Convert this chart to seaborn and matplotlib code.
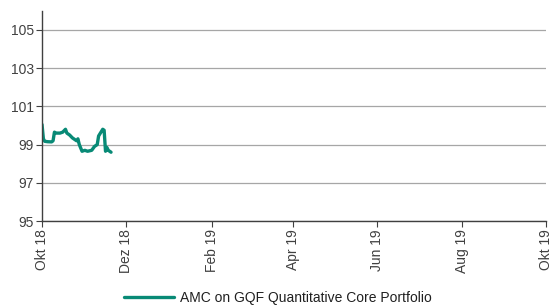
import matplotlib
matplotlib.use("Agg")
import matplotlib.pyplot as plt
import pandas as pd
import seaborn as sns
from matplotlib import font_manager

DATES = [
    "2018-10-01", "2018-10-02", "2018-10-03", "2018-10-05", "2018-10-08", "2018-10-09",
    "2018-10-10", "2018-10-11", "2018-10-14", "2018-10-16", "2018-10-18", "2018-10-19",
    "2018-10-21", "2018-10-23", "2018-10-26", "2018-10-27", "2018-10-28", "2018-10-30",
    "2018-11-01", "2018-11-03", "2018-11-06", "2018-11-08", "2018-11-10", "2018-11-11",
    "2018-11-14", "2018-11-15", "2018-11-16", "2018-11-17", "2018-11-18", "2018-11-20",
]
VALUES = [
    100.05, 99.3, 99.17, 99.15, 99.14, 99.2,
    99.65, 99.6, 99.6, 99.65, 99.8, 99.6,
    99.5, 99.35, 99.2, 99.3, 99.0, 98.65,
    98.7, 98.65, 98.7, 98.9, 99.0, 99.45,
    99.8, 99.75, 98.65, 98.85, 98.7, 98.6,
]
SERIES = "AMC on GQF Quantitative Core Portfolio"
X_TICKS = ["2018-10-01", "2018-12-01", "2019-02-01", "2019-04-01", "2019-06-01", "2019-08-01", "2019-10-01"]
X_LABELS = ["Okt 18", "Dez 18", "Feb 19", "Apr 19", "Jun 19", "Aug 19", "Okt 19"]
Y_TICKS = [95, 97, 99, 101, 103, 105]

LINE_COLOR = "#088a76"
TEXT_COLOR = "#404040"

sns.set_theme(style="white")
names = {f.name for f in font_manager.fontManager.ttflist}
narrow = "Liberation Sans Narrow" in names
plt.rcParams["font.family"] = ["Liberation Sans Narrow" if narrow else "Liberation Sans", "DejaVu Sans"]
FS = 11 if narrow else 10

data = pd.DataFrame({"date": pd.to_datetime(DATES), "value": VALUES, "series": SERIES})

fig = plt.figure(figsize=(5.5, 3.07), dpi=100)
ax = fig.add_axes([0.0764, 0.28, 0.916, 0.685])
sns.lineplot(data=data, x="date", y="value", hue="series", palette=[LINE_COLOR], linewidth=2.4, ax=ax)

ax.set_xlim(pd.Timestamp("2018-10-01"), pd.Timestamp("2019-10-01"))
ax.set_ylim(95, 106)
ax.set_xticks(pd.to_datetime(X_TICKS))
ax.set_xticklabels(X_LABELS, rotation=90, fontsize=FS, color=TEXT_COLOR)
ax.set_yticks(Y_TICKS)
ax.set_yticklabels([str(v) for v in Y_TICKS], fontsize=FS, color=TEXT_COLOR)
ax.set_xlabel("")
ax.set_ylabel("")

ax.yaxis.grid(True, color="#a6a6a6", linewidth=0.9)
ax.xaxis.grid(False)
for side in ["top", "right"]:
    ax.spines[side].set_visible(False)
for side in ["left", "bottom"]:
    ax.spines[side].set_color(TEXT_COLOR)
    ax.spines[side].set_linewidth(1.0)
ax.tick_params(axis="both", direction="out", length=4, width=0.8, color=TEXT_COLOR, pad=2, left=True, bottom=True)

ax.legend_.remove()
handles, labels = ax.get_legend_handles_labels()
fig.legend(handles, labels, loc="lower center", bbox_to_anchor=(0.505, -0.035), frameon=False,
           fontsize=FS + 1 if narrow else FS, handlelength=3.6, handletextpad=0.4, labelcolor="#202020")

fig.savefig("out.png", dpi=100)
